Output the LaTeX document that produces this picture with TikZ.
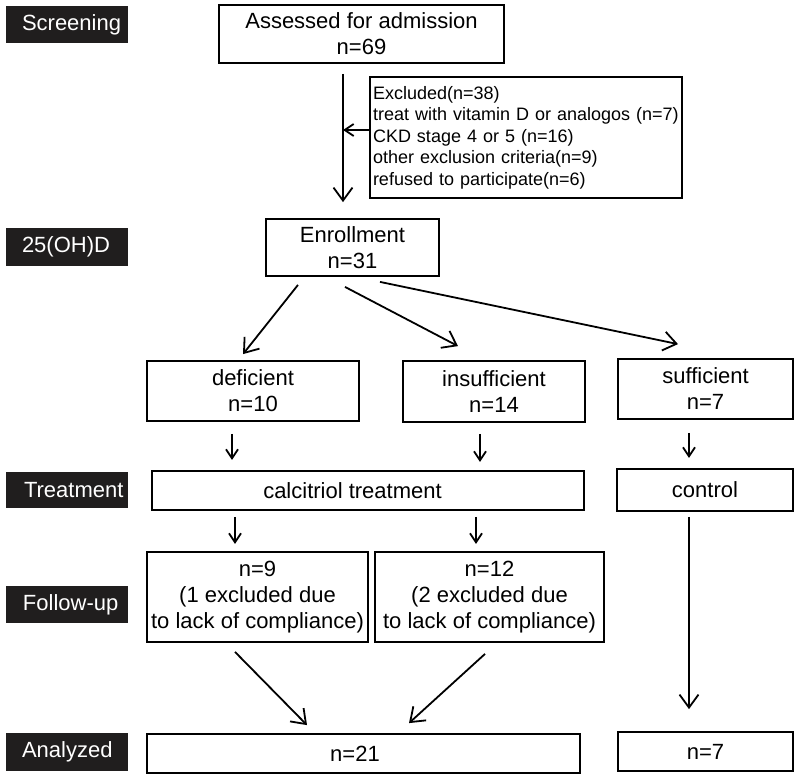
\documentclass[tikz,border=0pt]{standalone}
\usepackage{fontspec}
\setmainfont{Liberation Sans}
\usetikzlibrary{arrows.meta,calc}
\definecolor{labfill}{RGB}{32,30,30}
\tikzset{
  box/.style={draw, line width=1.8pt, align=center, inner sep=0pt,
    font=\fontsize{22}{26}\selectfont},
  exclbox/.style={draw, line width=1.8pt, align=left, inner xsep=3pt, inner ysep=0pt,
    text width=306pt, minimum height=121pt, font=\fontsize{18}{21.5}\selectfont},
  lab/.style={fill=labfill, text=white, inner xsep=0pt, inner ysep=0pt, text width=122pt,
    align=left, font=\fontsize{22}{26}\selectfont},
  arrbig/.style={line width=1.8pt, -{Straight Barb[length=13pt,width=19pt]}},
  arrsm/.style={line width=1.8pt, -{Straight Barb[length=9pt,width=12pt]}}
}
\begin{document}
\begin{tikzpicture}[x=1pt,y=-1pt]
\useasboundingbox (0,0) rectangle (800,780);
% stage labels
\node[lab, minimum height=37pt] (l1) at (67,24.5) {\hspace*{16pt}Screening};
\node[lab, minimum height=38pt] (l2) at (67,247) {\hspace*{16pt}25(OH)D};
\node[lab, minimum height=36pt] (l3) at (67,490) {\hspace*{18pt}Treatment};
\node[lab, minimum height=37pt] (l4) at (67,604.5) {\hspace*{17pt}Follow-up};
\node[lab, minimum height=38pt] (l5) at (67,752) {\hspace*{16pt}Analyzed};
% boxes
\node[box, minimum width=285pt, minimum height=58pt] (assess) at (361.5,34) {Assessed for admission\\n=69};
\node[exclbox] (excl) at (526,137.5) {Excluded(n=38)\\treat with vitamin D or analogos (n=7)\\CKD stage 4 or 5 (n=16)\\other exclusion criteria(n=9)\\refused to participate(n=6)};
\node[box, minimum width=173pt, minimum height=57pt] (enroll) at (352.5,247.5) {Enrollment\\n=31};
\node[box, minimum width=212pt, minimum height=60pt] (def) at (253,391) {deficient\\n=10};
\node[box, minimum width=182pt, minimum height=61pt] (insuf) at (494,391.5) {insufficient\\n=14};
\node[box, minimum width=175pt, minimum height=60pt] (suf) at (705.5,389) {sufficient\\n=7};
\node[box, minimum width=432pt, minimum height=39pt] (calc) at (368,490.5) {\hbox to 432pt{\hfil calcitriol treatment\hskip31pt\hfil}};
\node[box, minimum width=176pt, minimum height=42pt] (ctrl) at (705,490) {control};
\node[box, minimum width=221pt, minimum height=90pt] (f1) at (257.5,597) {n=9\\(1 excluded due\\to lack of compliance)};
\node[box, minimum width=229pt, minimum height=90pt] (f2) at (489.5,597) {n=12\\(2 excluded due\\to lack of compliance)};
\node[box, minimum width=433pt, minimum height=39pt] (an1) at (363.5,753.5) {\hbox to 433pt{\hfil n=21\hskip17pt\hfil}};
\node[box, minimum width=175pt, minimum height=39pt] (an2) at (705.5,751.5) {n=7};
% connectors
\draw[arrbig] ($(assess.south)+(-18.5,10)$) -- ($(enroll.north)+(-9.5,-16)$);
\draw[arrsm] ($(excl.west)+(0,-7.5)$) -- ($(excl.west)+(-26,-7.5)$);
\draw[arrbig] ($(enroll.south)+(-54.5,8)$) -- ($(def.north)+(-10,-6)$);
\draw[arrbig] ($(enroll.south)+(-7.5,10)$) -- ($(insuf.north)+(-36,-14)$);
\draw[arrbig] ($(enroll.south)+(27.5,5)$) -- ($(suf.north)+(-27.5,-14)$);
\draw[arrsm] ($(def.south)+(-21,12)$) -- ($(def.south)+(-21,38)$);
\draw[arrsm] ($(insuf.south)+(-14,11)$) -- ($(insuf.south)+(-14,39)$);
\draw[arrsm] ($(suf.south)+(-16.5,13)$) -- ($(suf.south)+(-16.5,38)$);
\draw[arrsm] ($(calc.south)+(-133,6)$) -- ($(calc.south)+(-133,33)$);
\draw[arrsm] ($(calc.south)+(108,6)$) -- ($(calc.south)+(108,33)$);
\draw[arrbig] ($(ctrl.south)+(-16,5)$) -- ($(an2.north)+(-16.5,-22)$);
\draw[arrbig] ($(f1.south)+(-22.5,9)$) -- ($(an1.north)+(-56.5,-8)$);
\draw[arrbig] ($(f2.south)+(-4.5,11)$) -- ($(an1.north)+(45.5,-10)$);
\end{tikzpicture}
\end{document}
